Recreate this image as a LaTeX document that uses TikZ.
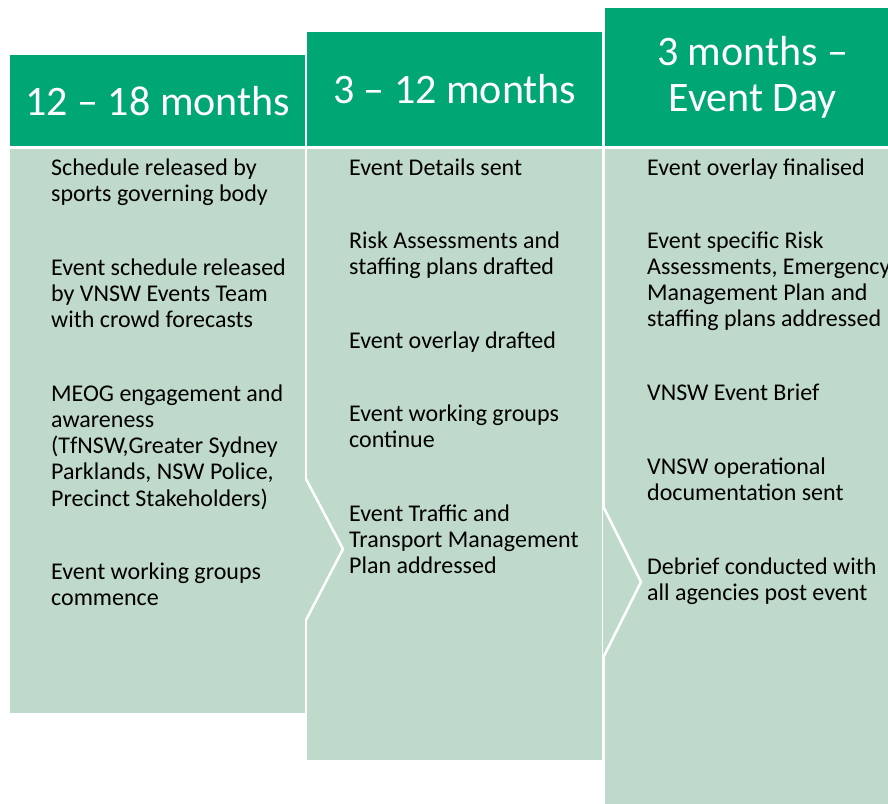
\documentclass[tikz,border=0pt]{standalone}
\usepackage{fontspec}
\setmainfont{Carlito}
\usetikzlibrary{positioning}
\definecolor{hgreen}{HTML}{00A673}
\definecolor{bgreen}{HTML}{BFD9CA}
\tikzset{
  head/.style={fill=hgreen, text=white, anchor=north west, minimum width=295pt, inner sep=0pt, align=center, font=\fontsize{42}{46}\selectfont},
  body/.style={fill=bgreen, anchor=north west, minimum width=295pt, inner sep=0pt},
  item/.style={anchor=base west, align=left, inner sep=0pt, font=\fontsize{24}{26.3}\selectfont},
  cut/.style={draw=white, line width=2.5pt},
}

\begin{document}
\begin{tikzpicture}[x=1pt, y=-1pt]
  \clip (0,0) rectangle (888,803);
  \fill[white] (0,0) rectangle (888,803);
  % column bodies
  \node[body, minimum height=564pt] (b1) at (10,149) {};
  \node[body, minimum height=611pt] (b2) at (307,149) {};
  \node[body, minimum height=658pt] (b3) at (605,149) {};
  % chevrons between columns
  \coordinate (c1a) at (305,479);
  \coordinate (c1t) at (343,549);
  \coordinate (c1b) at (305,620);
  \coordinate (c2a) at (603,506);
  \coordinate (c2t) at (641,582);
  \coordinate (c2b) at (603,658);
  \fill[bgreen] (c1a) -- (c1t) -- (c1b) -- cycle;
  \fill[bgreen] (c2a) -- (c2t) -- (c2b) -- cycle;
  \draw[cut] ([xshift=1pt]c1a) -- (c1t) -- ([xshift=1pt]c1b);
  \draw[cut] (c2a) -- (c2t) -- (c2b);
  % headers
  \node[head, minimum height=91pt] (h1) at (10,55) {12 -- 18 months};
  \node[head, minimum height=114pt] (h2) at (307,32) {3 -- 12 months};
  \node[head, minimum height=138pt] (h3) at (605,8) {3 months --\\Event Day};
  % 12 - 18 months (anchored at the last line's baseline)
  \node[item] (s1) at (51,201.3) {Schedule released by\\sports governing body};
  \node[item] (s2) at (51,327.6) {Event schedule released\\by VNSW Events Team\\with crowd forecasts};
  \node[item] (s3) at (51,506.2) {MEOG engagement and\\awareness\\(TfNSW,Greater Sydney\\Parklands, NSW Police,\\Precinct Stakeholders)};
  \node[item] (s4) at (51,605.3) {Event working groups\\commence};
  % 3 - 12 months
  \node[item] (m1) at (349,175) {Event Details sent};
  \node[item] (m2) at (349,274.3) {Risk Assessments and\\staffing plans drafted};
  \node[item] (m3) at (349,348) {Event overlay drafted};
  \node[item] (m4) at (349,447.3) {Event working groups\\continue};
  \node[item] (m5) at (349,573.6) {Event Traffic and\\Transport Management\\Plan addressed};
  % 3 months - event day
  \node[item] (e1) at (647,175) {Event overlay finalised};
  \node[item] (e2) at (647,326.9) {Event specific Risk\\Assessments, Emergency\\Management Plan and\\staffing plans addressed};
  \node[item] (e3) at (647,400) {VNSW Event Brief};
  \node[item] (e4) at (647,500.3) {VNSW operational\\documentation sent};
  \node[item] (e5) at (647,600.3) {Debrief conducted with\\all agencies post event};
\end{tikzpicture}
\end{document}
